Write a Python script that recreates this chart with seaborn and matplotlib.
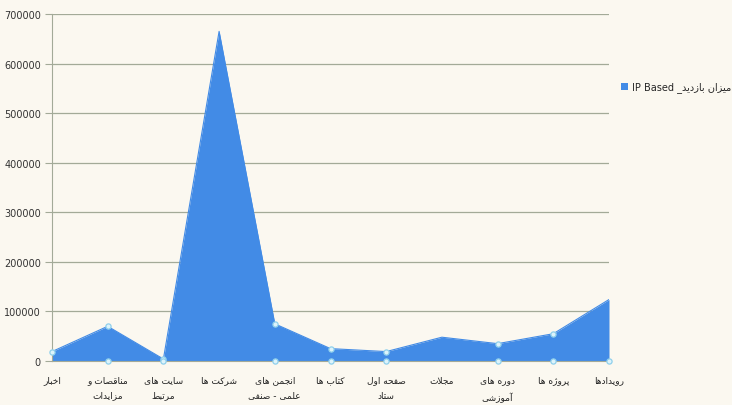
import pandas as pd
import matplotlib
matplotlib.use('Agg')
import matplotlib.pyplot as plt
from matplotlib.patches import Patch
import seaborn as sns

# chart data
categories = [
    'اخبار', 'مناقصات و\nمزایدات', 'سایت های\nمرتبط', 'شرکت ها',
    'انجمن های\nعلمی - صنفی', 'کتاب ها', 'صفحه اول\nستاد', 'مجلات',
    'دوره های\nآموزشی', 'پروژه ها', 'رویدادها'
]
visits = [19000, 70000, 4000, 665000, 75000, 25000, 19000, 48000, 35000, 55000, 124000]
series_name = 'میزان بازدید'
yticks = [0, 100000, 200000, 300000, 400000, 500000, 600000, 700000]

# categories that carry the small circle markers in the original
top_marked = [0, 1, 2, 4, 5, 6, 8, 9]
zero_marked = [1, 2, 4, 5, 6, 8, 9, 10]

# matplotlib does not join arabic letters, so shape them by hand
FORMS = {
    'ا': ('\uFE8D', '\uFE8E', None, None), 'آ': ('\uFE81', '\uFE82', None, None),
    'ب': ('\uFE8F', '\uFE90', '\uFE91', '\uFE92'), 'پ': ('\uFB56', '\uFB57', '\uFB58', '\uFB59'),
    'ت': ('\uFE95', '\uFE96', '\uFE97', '\uFE98'), 'ج': ('\uFE9D', '\uFE9E', '\uFE9F', '\uFEA0'),
    'ح': ('\uFEA1', '\uFEA2', '\uFEA3', '\uFEA4'),
    'خ': ('\uFEA5', '\uFEA6', '\uFEA7', '\uFEA8'), 'د': ('\uFEA9', '\uFEAA', None, None),
    'ر': ('\uFEAD', '\uFEAE', None, None), 'ز': ('\uFEAF', '\uFEB0', None, None),
    'ژ': ('\uFB8A', '\uFB8B', None, None), 'س': ('\uFEB1', '\uFEB2', '\uFEB3', '\uFEB4'),
    'ش': ('\uFEB5', '\uFEB6', '\uFEB7', '\uFEB8'), 'ص': ('\uFEB9', '\uFEBA', '\uFEBB', '\uFEBC'),
    'ط': ('\uFEC1', '\uFEC2', '\uFEC3', '\uFEC4'), 'ع': ('\uFEC9', '\uFECA', '\uFECB', '\uFECC'),
    'ف': ('\uFED1', '\uFED2', '\uFED3', '\uFED4'), 'ق': ('\uFED5', '\uFED6', '\uFED7', '\uFED8'),
    'ک': ('\uFB8E', '\uFB8F', '\uFB90', '\uFB91'), 'ل': ('\uFEDD', '\uFEDE', '\uFEDF', '\uFEE0'),
    'م': ('\uFEE1', '\uFEE2', '\uFEE3', '\uFEE4'), 'ن': ('\uFEE5', '\uFEE6', '\uFEE7', '\uFEE8'),
    'ه': ('\uFEE9', '\uFEEA', '\uFEEB', '\uFEEC'), 'و': ('\uFEED', '\uFEEE', None, None),
    'ی': ('\uFBFC', '\uFBFD', '\uFBFE', '\uFBFF'),
}


def joins_forward(ch):
    return ch in FORMS and FORMS[ch][2] is not None


def shape_line(s):
    res = []
    i = 0
    while i < len(s):
        ch = s[i]
        prev = s[i - 1] if i > 0 else ''
        nxt = s[i + 1] if i + 1 < len(s) else ''
        if ch not in FORMS:
            res.append(ch)
            i += 1
            continue
        join_prev = joins_forward(prev)
        if ch == 'ل' and nxt == 'ا':
            res.append('\uFEFC' if join_prev else '\uFEFB')
            i += 2
            continue
        join_next = joins_forward(ch) and nxt in FORMS
        iso, fin, ini, med = FORMS[ch]
        if join_prev and join_next:
            res.append(med)
        elif join_prev:
            res.append(fin)
        elif join_next:
            res.append(ini)
        else:
            res.append(iso)
        i += 1
    return ''.join(reversed(res))


def shape(text):
    return '\n'.join(shape_line(line) for line in text.split('\n'))


df = pd.DataFrame({'pos': range(len(categories)), 'visits': visits})

sns.set_style('white')
plt.rcParams['font.family'] = ['DejaVu Sans']

bg = '#FBF8F0'
blue = '#428BE6'
grid_col = '#A3AA98'

fig = plt.figure(figsize=(7.32, 4.06), dpi=100, facecolor=bg)
ax = fig.add_axes([52 / 732, 44 / 406, 557 / 732, 347 / 406])
ax.set_facecolor(bg)

ax.fill_between(df['pos'], 0, df['visits'], color=blue, lw=0, zorder=2)
sns.lineplot(data=df, x='pos', y='visits', color=blue, lw=0.8, ax=ax, zorder=3)

top = df.loc[top_marked]
ax.scatter(top['pos'], top['visits'], s=14, facecolor='#DDF3FB', edgecolor='#8FD0EC',
           lw=0.9, zorder=4, clip_on=False)
ax.scatter(zero_marked, [0] * len(zero_marked), s=14, facecolor='#DDF3FB',
           edgecolor='#8FD0EC', lw=0.9, zorder=4, clip_on=False)

ax.set_xlim(0, len(categories) - 1)
ax.set_ylim(0, 700000)
ax.set_yticks(yticks)
ax.set_yticklabels([str(v) for v in yticks], fontsize=7, color='#333333')
ax.yaxis.grid(True, color=grid_col, lw=0.9)
ax.set_axisbelow(True)

ax.set_xticks(df['pos'])
ax.set_xticklabels([shape(c) for c in categories], fontsize=6.5,
                   color='#222222', linespacing=1.95)
ax.tick_params(axis='x', length=4, color=grid_col, pad=6)
ax.tick_params(axis='y', length=5, color=grid_col, pad=3, left=True)
ax.set_xlabel('')
ax.set_ylabel('')

for side in ['top', 'right']:
    ax.spines[side].set_visible(False)
ax.spines['left'].set_color(grid_col)
ax.spines['bottom'].set_color(grid_col)

handle = Patch(facecolor=blue, edgecolor='none')
fig.legend([handle], ['IP Based _' + shape(series_name)], loc='center left',
           bbox_to_anchor=(620 / 732, 1 - 88 / 406), frameon=False, fontsize=7,
           handlelength=0.7, handleheight=0.7, handletextpad=0.4, borderpad=0.1,
           borderaxespad=0)

fig.savefig('out.png', dpi=100, facecolor=bg)
